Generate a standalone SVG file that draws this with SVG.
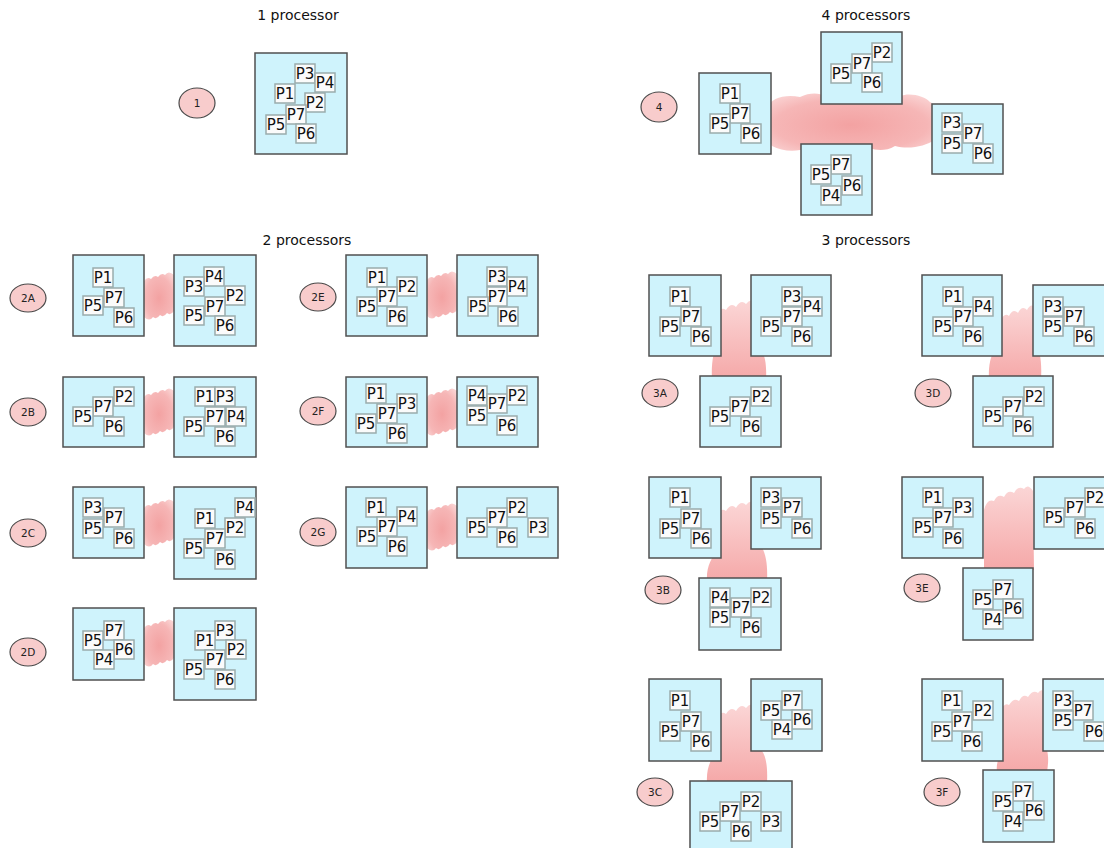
<svg xmlns="http://www.w3.org/2000/svg" xmlns:xlink="http://www.w3.org/1999/xlink" width="1104" height="848" viewBox="0 0 1104 848">
<style>
.bx{fill:#cff3fc;stroke:#505050;stroke-width:1.5}
.l{fill:#fbfbfb;stroke:#9aacac;stroke-width:1.5}
.t{font-family:"DejaVu Sans",sans-serif;font-size:15px;text-anchor:middle;fill:#111}
.ti{font-family:"DejaVu Sans",sans-serif;font-size:14px;text-anchor:middle;fill:#111}
.ci{fill:#f8cccc;stroke:#4a4a4a;stroke-width:1.2}
.ct{font-family:"DejaVu Sans",sans-serif;font-size:10.5px;text-anchor:middle;fill:#222}
.hcl{fill:url(#rg)}
.vcl{fill:url(#lg)}
</style>
<defs>
<radialGradient id="rg" cx="0.5" cy="0.55" r="0.65"><stop offset="0" stop-color="#f3a2a2"/><stop offset="0.7" stop-color="#f6b6b6"/><stop offset="1" stop-color="#fad2d2"/></radialGradient>
<linearGradient id="lg" x1="0" y1="0" x2="0" y2="1"><stop offset="0" stop-color="#fbd6d6"/><stop offset="1" stop-color="#f5a8a8"/></linearGradient>
<path id="hc" d="M0,5 q3.5,-5 7,-2 q3.5,-5 7,-2 q3.5,-5 7,-2 q3.5,-5 9,0 L30,35 q-3.5,5 -7,2 q-3.5,5 -7,2 q-3.5,5 -7,2 q-3.5,5 -9,0 Z"/>
</defs>
<rect width="1104" height="848" fill="#fff"/>
<g id="titles">
<text class="ti" x="298" y="20">1 processor</text>
<text class="ti" x="866" y="20">4 processors</text>
<text class="ti" x="307" y="245">2 processors</text>
<text class="ti" x="866" y="245">3 processors</text>
</g>
<g id="connectors">
<path class="hcl" d="M768,108 C770,98 785,94 800,97 C810,92 820,93 825,96 L900,96 C910,92 925,96 930,102 L935,105 L935,140 C925,146 910,150 895,146 C885,152 875,150 870,148 L800,150 C790,152 780,150 772,146 C766,140 766,120 768,108 Z"/>
<use class="hcl" href="#hc" x="144" y="276"/>
<use class="hcl" href="#hc" x="427" y="275"/>
<use class="hcl" href="#hc" x="144" y="392"/>
<use class="hcl" href="#hc" x="427" y="392"/>
<use class="hcl" href="#hc" x="144" y="503"/>
<use class="hcl" href="#hc" x="427" y="507"/>
<use class="hcl" href="#hc" x="144" y="623"/>
<path class="vcl" d="M716,316 q4,-10 10,-6 q5,-8 10,-3 q5,-8 10,-3 q5,-7 10,0 L757,345 C764,352 767,360 766,380 L712,380 C711,362 714,352 716,345 Z"/>
<path class="vcl" d="M1000,322 q4,-10 9,-6 q4,-8 9,-3 q4,-8 9,-3 q4,-8 9,-2 L1036,345 C1040,352 1042,360 1041,380 L989,380 C988,362 992,352 998,345 Z"/>
<path class="vcl" d="M716,517 q4,-10 10,-6 q5,-8 10,-3 q5,-8 10,-3 q5,-7 10,0 L757,540 C765,550 768,560 767,582 L707,582 C706,565 712,560 716,550 Z"/>
<path class="vcl" d="M984,510 q3,-12 10,-9 q4,-8 10,-4 q4,-8 10,-4 q4,-8 10,-4 q4,-6 9,2 L1034,570 L984,570 Z"/>
<path class="vcl" d="M716,720 q4,-10 10,-6 q5,-8 10,-3 q5,-8 10,-3 q5,-7 10,0 L757,745 C765,752 768,762 767,783 L707,783 C706,768 711,760 716,750 Z"/>
<path class="vcl" d="M1000,712 q4,-10 9,-7 q5,-8 10,-4 q4,-8 9,-4 q5,-8 10,-4 q4,-6 8,1 L1047,750 C1049,758 1048,765 1047,772 L997,772 C996,765 998,760 1000,755 Z"/>
</g>
<g id="c1"><ellipse class="ci" cx="197" cy="103" rx="18" ry="15"/><text class="ct" x="197" y="107">1</text></g>
<g id="c4"><ellipse class="ci" cx="659" cy="107" rx="18" ry="15"/><text class="ct" x="659" y="111">4</text></g>
<g id="c2A"><ellipse class="ci" cx="28" cy="298" rx="18" ry="14"/><text class="ct" x="28" y="302">2A</text></g>
<g id="c2B"><ellipse class="ci" cx="28" cy="412" rx="18" ry="14"/><text class="ct" x="28" y="416">2B</text></g>
<g id="c2C"><ellipse class="ci" cx="28" cy="533" rx="18" ry="14"/><text class="ct" x="28" y="537">2C</text></g>
<g id="c2D"><ellipse class="ci" cx="28" cy="652" rx="18" ry="14"/><text class="ct" x="28" y="656">2D</text></g>
<g id="c2E"><ellipse class="ci" cx="318" cy="297" rx="18" ry="14"/><text class="ct" x="318" y="301">2E</text></g>
<g id="c2F"><ellipse class="ci" cx="318" cy="411" rx="18" ry="14"/><text class="ct" x="318" y="415">2F</text></g>
<g id="c2G"><ellipse class="ci" cx="318" cy="532" rx="18" ry="14"/><text class="ct" x="318" y="536">2G</text></g>
<g id="c3A"><ellipse class="ci" cx="660" cy="393" rx="18" ry="14"/><text class="ct" x="660" y="397">3A</text></g>
<g id="c3D"><ellipse class="ci" cx="933" cy="393" rx="18" ry="14"/><text class="ct" x="933" y="397">3D</text></g>
<g id="c3B"><ellipse class="ci" cx="663" cy="590" rx="18" ry="14"/><text class="ct" x="663" y="594">3B</text></g>
<g id="c3E"><ellipse class="ci" cx="922" cy="588" rx="18" ry="14"/><text class="ct" x="922" y="592">3E</text></g>
<g id="c3C"><ellipse class="ci" cx="655" cy="792" rx="18" ry="14"/><text class="ct" x="655" y="796">3C</text></g>
<g id="c3F"><ellipse class="ci" cx="942" cy="792" rx="18" ry="14"/><text class="ct" x="942" y="796">3F</text></g>

<g id="b1"><rect class="bx" x="255" y="53" width="92" height="101"/>
<rect class="l" x="295" y="64" width="20" height="19"/><text class="t" x="305" y="79">P3</text>
<rect class="l" x="315" y="73" width="20" height="19"/><text class="t" x="325" y="88">P4</text>
<rect class="l" x="275" y="84" width="20" height="19"/><text class="t" x="285" y="99">P1</text>
<rect class="l" x="305" y="93" width="20" height="19"/><text class="t" x="315" y="108">P2</text>
<rect class="l" x="286" y="105" width="20" height="19"/><text class="t" x="296" y="120">P7</text>
<rect class="l" x="266" y="115" width="20" height="19"/><text class="t" x="276" y="130">P5</text>
<rect class="l" x="296" y="124" width="20" height="19"/><text class="t" x="306" y="139">P6</text>
</g>
<g id="b4A"><rect class="bx" x="699" y="73" width="72" height="81"/>
<rect class="l" x="720" y="84" width="20" height="19"/><text class="t" x="730" y="99">P1</text>
<rect class="l" x="730" y="104" width="20" height="19"/><text class="t" x="740" y="119">P7</text>
<rect class="l" x="710" y="114" width="20" height="19"/><text class="t" x="720" y="129">P5</text>
<rect class="l" x="741" y="124" width="20" height="19"/><text class="t" x="751" y="139">P6</text>
</g>
<g id="b4B"><rect class="bx" x="821" y="32" width="81" height="72"/>
<rect class="l" x="872" y="43" width="20" height="19"/><text class="t" x="882" y="58">P2</text>
<rect class="l" x="852" y="54" width="20" height="19"/><text class="t" x="862" y="69">P7</text>
<rect class="l" x="831" y="64" width="20" height="19"/><text class="t" x="841" y="79">P5</text>
<rect class="l" x="862" y="73" width="20" height="19"/><text class="t" x="872" y="88">P6</text>
</g>
<g id="b4C"><rect class="bx" x="801" y="144" width="71" height="71"/>
<rect class="l" x="831" y="155" width="20" height="19"/><text class="t" x="841" y="170">P7</text>
<rect class="l" x="811" y="165" width="20" height="19"/><text class="t" x="821" y="180">P5</text>
<rect class="l" x="842" y="176" width="20" height="19"/><text class="t" x="852" y="191">P6</text>
<rect class="l" x="821" y="186" width="20" height="19"/><text class="t" x="831" y="201">P4</text>
</g>
<g id="b4D"><rect class="bx" x="932" y="104" width="71" height="70"/>
<rect class="l" x="942" y="113" width="20" height="19"/><text class="t" x="952" y="128">P3</text>
<rect class="l" x="963" y="124" width="20" height="19"/><text class="t" x="973" y="139">P7</text>
<rect class="l" x="942" y="134" width="20" height="19"/><text class="t" x="952" y="149">P5</text>
<rect class="l" x="973" y="144" width="20" height="19"/><text class="t" x="983" y="159">P6</text>
</g>

<g id="b2AL"><rect class="bx" x="73" y="255" width="71" height="81"/>
<rect class="l" x="93" y="268" width="20" height="19"/><text class="t" x="103" y="283">P1</text>
<rect class="l" x="104" y="288" width="20" height="19"/><text class="t" x="114" y="303">P7</text>
<rect class="l" x="83" y="296" width="20" height="19"/><text class="t" x="93" y="311">P5</text>
<rect class="l" x="114" y="308" width="20" height="19"/><text class="t" x="124" y="323">P6</text>
</g>
<g id="b2AR"><rect class="bx" x="174" y="255" width="82" height="91"/>
<rect class="l" x="204" y="267" width="20" height="19"/><text class="t" x="214" y="282">P4</text>
<rect class="l" x="184" y="277" width="20" height="19"/><text class="t" x="194" y="292">P3</text>
<rect class="l" x="225" y="286" width="20" height="19"/><text class="t" x="235" y="301">P2</text>
<rect class="l" x="205" y="297" width="20" height="19"/><text class="t" x="215" y="312">P7</text>
<rect class="l" x="184" y="306" width="20" height="19"/><text class="t" x="194" y="321">P5</text>
<rect class="l" x="215" y="316" width="20" height="19"/><text class="t" x="225" y="331">P6</text>
</g>
<g id="b2EL"><rect class="bx" x="346" y="255" width="81" height="81"/>
<rect class="l" x="367" y="268" width="20" height="19"/><text class="t" x="377" y="283">P1</text>
<rect class="l" x="397" y="277" width="20" height="19"/><text class="t" x="407" y="292">P2</text>
<rect class="l" x="377" y="287" width="20" height="19"/><text class="t" x="387" y="302">P7</text>
<rect class="l" x="357" y="297" width="20" height="19"/><text class="t" x="367" y="312">P5</text>
<rect class="l" x="387" y="307" width="20" height="19"/><text class="t" x="397" y="322">P6</text>
</g>
<g id="b2ER"><rect class="bx" x="457" y="255" width="81" height="81"/>
<rect class="l" x="487" y="267" width="20" height="19"/><text class="t" x="497" y="282">P3</text>
<rect class="l" x="507" y="277" width="20" height="19"/><text class="t" x="517" y="292">P4</text>
<rect class="l" x="487" y="287" width="20" height="19"/><text class="t" x="497" y="302">P7</text>
<rect class="l" x="468" y="297" width="20" height="19"/><text class="t" x="478" y="312">P5</text>
<rect class="l" x="498" y="307" width="20" height="19"/><text class="t" x="508" y="322">P6</text>
</g>
<g id="b2BL"><rect class="bx" x="63" y="377" width="81" height="70"/>
<rect class="l" x="114" y="387" width="20" height="19"/><text class="t" x="124" y="402">P2</text>
<rect class="l" x="93" y="397" width="20" height="19"/><text class="t" x="103" y="412">P7</text>
<rect class="l" x="73" y="407" width="20" height="19"/><text class="t" x="83" y="422">P5</text>
<rect class="l" x="104" y="417" width="20" height="19"/><text class="t" x="114" y="432">P6</text>
</g>
<g id="b2BR"><rect class="bx" x="174" y="377" width="82" height="80"/>
<rect class="l" x="195" y="387" width="20" height="19"/><text class="t" x="205" y="402">P1</text>
<rect class="l" x="215" y="387" width="20" height="19"/><text class="t" x="225" y="402">P3</text>
<rect class="l" x="205" y="407" width="20" height="19"/><text class="t" x="215" y="422">P7</text>
<rect class="l" x="226" y="407" width="20" height="19"/><text class="t" x="236" y="422">P4</text>
<rect class="l" x="184" y="417" width="20" height="19"/><text class="t" x="194" y="432">P5</text>
<rect class="l" x="215" y="427" width="20" height="19"/><text class="t" x="225" y="442">P6</text>
</g>
<g id="b2FL"><rect class="bx" x="346" y="377" width="81" height="70"/>
<rect class="l" x="366" y="384" width="20" height="19"/><text class="t" x="376" y="399">P1</text>
<rect class="l" x="397" y="394" width="20" height="19"/><text class="t" x="407" y="409">P3</text>
<rect class="l" x="377" y="404" width="20" height="19"/><text class="t" x="387" y="419">P7</text>
<rect class="l" x="356" y="414" width="20" height="19"/><text class="t" x="366" y="429">P5</text>
<rect class="l" x="387" y="424" width="20" height="19"/><text class="t" x="397" y="439">P6</text>
</g>
<g id="b2FR"><rect class="bx" x="457" y="377" width="81" height="70"/>
<rect class="l" x="467" y="386" width="20" height="19"/><text class="t" x="477" y="401">P4</text>
<rect class="l" x="487" y="394" width="20" height="19"/><text class="t" x="497" y="409">P7</text>
<rect class="l" x="507" y="386" width="20" height="19"/><text class="t" x="517" y="401">P2</text>
<rect class="l" x="467" y="406" width="20" height="19"/><text class="t" x="477" y="421">P5</text>
<rect class="l" x="497" y="416" width="20" height="19"/><text class="t" x="507" y="431">P6</text>
</g>
<g id="b2CL"><rect class="bx" x="73" y="487" width="71" height="71"/>
<rect class="l" x="83" y="498" width="20" height="19"/><text class="t" x="93" y="513">P3</text>
<rect class="l" x="104" y="508" width="20" height="19"/><text class="t" x="114" y="523">P7</text>
<rect class="l" x="83" y="519" width="20" height="19"/><text class="t" x="93" y="534">P5</text>
<rect class="l" x="114" y="529" width="20" height="19"/><text class="t" x="124" y="544">P6</text>
</g>
<g id="b2CR"><rect class="bx" x="174" y="487" width="82" height="92"/>
<rect class="l" x="235" y="498" width="20" height="19"/><text class="t" x="245" y="513">P4</text>
<rect class="l" x="195" y="509" width="20" height="19"/><text class="t" x="205" y="524">P1</text>
<rect class="l" x="225" y="518" width="20" height="19"/><text class="t" x="235" y="533">P2</text>
<rect class="l" x="205" y="529" width="20" height="19"/><text class="t" x="215" y="544">P7</text>
<rect class="l" x="184" y="539" width="20" height="19"/><text class="t" x="194" y="554">P5</text>
<rect class="l" x="215" y="550" width="20" height="19"/><text class="t" x="225" y="565">P6</text>
</g>
<g id="b2GL"><rect class="bx" x="346" y="487" width="81" height="81"/>
<rect class="l" x="366" y="498" width="20" height="19"/><text class="t" x="376" y="513">P1</text>
<rect class="l" x="397" y="507" width="20" height="19"/><text class="t" x="407" y="522">P4</text>
<rect class="l" x="377" y="517" width="20" height="19"/><text class="t" x="387" y="532">P7</text>
<rect class="l" x="357" y="527" width="20" height="19"/><text class="t" x="367" y="542">P5</text>
<rect class="l" x="387" y="537" width="20" height="19"/><text class="t" x="397" y="552">P6</text>
</g>
<g id="b2GR"><rect class="bx" x="457" y="487" width="101" height="71"/>
<rect class="l" x="507" y="498" width="20" height="19"/><text class="t" x="517" y="513">P2</text>
<rect class="l" x="487" y="508" width="20" height="19"/><text class="t" x="497" y="523">P7</text>
<rect class="l" x="467" y="518" width="20" height="19"/><text class="t" x="477" y="533">P5</text>
<rect class="l" x="497" y="528" width="20" height="19"/><text class="t" x="507" y="543">P6</text>
<rect class="l" x="528" y="518" width="20" height="19"/><text class="t" x="538" y="533">P3</text>
</g>
<g id="b2DL"><rect class="bx" x="73" y="608" width="71" height="72"/>
<rect class="l" x="104" y="621" width="20" height="19"/><text class="t" x="114" y="636">P7</text>
<rect class="l" x="83" y="631" width="20" height="19"/><text class="t" x="93" y="646">P5</text>
<rect class="l" x="114" y="640" width="20" height="19"/><text class="t" x="124" y="655">P6</text>
<rect class="l" x="94" y="650" width="20" height="19"/><text class="t" x="104" y="665">P4</text>
</g>
<g id="b2DR"><rect class="bx" x="174" y="608" width="82" height="92"/>
<rect class="l" x="215" y="621" width="20" height="19"/><text class="t" x="225" y="636">P3</text>
<rect class="l" x="195" y="631" width="20" height="19"/><text class="t" x="205" y="646">P1</text>
<rect class="l" x="226" y="640" width="20" height="19"/><text class="t" x="236" y="655">P2</text>
<rect class="l" x="205" y="650" width="20" height="19"/><text class="t" x="215" y="665">P7</text>
<rect class="l" x="184" y="660" width="20" height="19"/><text class="t" x="194" y="675">P5</text>
<rect class="l" x="215" y="670" width="20" height="19"/><text class="t" x="225" y="685">P6</text>
</g>

<g id="b3ATL"><rect class="bx" x="649" y="275" width="72" height="81"/>
<rect class="l" x="670" y="287" width="20" height="19"/><text class="t" x="680" y="302">P1</text>
<rect class="l" x="681" y="307" width="20" height="19"/><text class="t" x="691" y="322">P7</text>
<rect class="l" x="660" y="317" width="20" height="19"/><text class="t" x="670" y="332">P5</text>
<rect class="l" x="691" y="327" width="20" height="19"/><text class="t" x="701" y="342">P6</text>
</g>
<g id="b3ATR"><rect class="bx" x="751" y="275" width="80" height="81"/>
<rect class="l" x="782" y="287" width="20" height="19"/><text class="t" x="792" y="302">P3</text>
<rect class="l" x="802" y="297" width="20" height="19"/><text class="t" x="812" y="312">P4</text>
<rect class="l" x="782" y="307" width="20" height="19"/><text class="t" x="792" y="322">P7</text>
<rect class="l" x="761" y="317" width="20" height="19"/><text class="t" x="771" y="332">P5</text>
<rect class="l" x="792" y="327" width="20" height="19"/><text class="t" x="802" y="342">P6</text>
</g>
<g id="b3AB"><rect class="bx" x="700" y="376" width="81" height="71"/>
<rect class="l" x="751" y="387" width="20" height="19"/><text class="t" x="761" y="402">P2</text>
<rect class="l" x="730" y="397" width="20" height="19"/><text class="t" x="740" y="412">P7</text>
<rect class="l" x="710" y="407" width="20" height="19"/><text class="t" x="720" y="422">P5</text>
<rect class="l" x="741" y="417" width="20" height="19"/><text class="t" x="751" y="432">P6</text>
</g>
<g id="b3DTL"><rect class="bx" x="922" y="275" width="80" height="81"/>
<rect class="l" x="943" y="287" width="20" height="19"/><text class="t" x="953" y="302">P1</text>
<rect class="l" x="973" y="297" width="20" height="19"/><text class="t" x="983" y="312">P4</text>
<rect class="l" x="953" y="307" width="20" height="19"/><text class="t" x="963" y="322">P7</text>
<rect class="l" x="933" y="317" width="20" height="19"/><text class="t" x="943" y="332">P5</text>
<rect class="l" x="963" y="327" width="20" height="19"/><text class="t" x="973" y="342">P6</text>
</g>
<g id="b3DTR"><rect class="bx" x="1033" y="285" width="80" height="71"/>
<rect class="l" x="1043" y="297" width="20" height="19"/><text class="t" x="1053" y="312">P3</text>
<rect class="l" x="1064" y="307" width="20" height="19"/><text class="t" x="1074" y="322">P7</text>
<rect class="l" x="1043" y="317" width="20" height="19"/><text class="t" x="1053" y="332">P5</text>
<rect class="l" x="1074" y="327" width="20" height="19"/><text class="t" x="1084" y="342">P6</text>
</g>
<g id="b3DB"><rect class="bx" x="973" y="376" width="80" height="71"/>
<rect class="l" x="1024" y="387" width="20" height="19"/><text class="t" x="1034" y="402">P2</text>
<rect class="l" x="1003" y="397" width="20" height="19"/><text class="t" x="1013" y="412">P7</text>
<rect class="l" x="983" y="407" width="20" height="19"/><text class="t" x="993" y="422">P5</text>
<rect class="l" x="1013" y="417" width="20" height="19"/><text class="t" x="1023" y="432">P6</text>
</g>
<g id="b3BTL"><rect class="bx" x="649" y="477" width="72" height="81"/>
<rect class="l" x="670" y="488" width="20" height="19"/><text class="t" x="680" y="503">P1</text>
<rect class="l" x="681" y="509" width="20" height="19"/><text class="t" x="691" y="524">P7</text>
<rect class="l" x="660" y="519" width="20" height="19"/><text class="t" x="670" y="534">P5</text>
<rect class="l" x="691" y="529" width="20" height="19"/><text class="t" x="701" y="544">P6</text>
</g>
<g id="b3BTR"><rect class="bx" x="751" y="477" width="70" height="72"/>
<rect class="l" x="761" y="488" width="20" height="19"/><text class="t" x="771" y="503">P3</text>
<rect class="l" x="782" y="498" width="20" height="19"/><text class="t" x="792" y="513">P7</text>
<rect class="l" x="761" y="509" width="20" height="19"/><text class="t" x="771" y="524">P5</text>
<rect class="l" x="792" y="519" width="20" height="19"/><text class="t" x="802" y="534">P6</text>
</g>
<g id="b3BB"><rect class="bx" x="699" y="578" width="82" height="72"/>
<rect class="l" x="710" y="588" width="20" height="19"/><text class="t" x="720" y="603">P4</text>
<rect class="l" x="731" y="598" width="20" height="19"/><text class="t" x="741" y="613">P7</text>
<rect class="l" x="751" y="588" width="20" height="19"/><text class="t" x="761" y="603">P2</text>
<rect class="l" x="710" y="608" width="20" height="19"/><text class="t" x="720" y="623">P5</text>
<rect class="l" x="741" y="618" width="20" height="19"/><text class="t" x="751" y="633">P6</text>
</g>
<g id="b3ETL"><rect class="bx" x="902" y="477" width="81" height="81"/>
<rect class="l" x="923" y="488" width="20" height="19"/><text class="t" x="933" y="503">P1</text>
<rect class="l" x="953" y="498" width="20" height="19"/><text class="t" x="963" y="513">P3</text>
<rect class="l" x="933" y="508" width="20" height="19"/><text class="t" x="943" y="523">P7</text>
<rect class="l" x="913" y="518" width="20" height="19"/><text class="t" x="923" y="533">P5</text>
<rect class="l" x="943" y="529" width="20" height="19"/><text class="t" x="953" y="544">P6</text>
</g>
<g id="b3ETR"><rect class="bx" x="1034" y="477" width="80" height="72"/>
<rect class="l" x="1085" y="488" width="20" height="19"/><text class="t" x="1095" y="503">P2</text>
<rect class="l" x="1065" y="498" width="20" height="19"/><text class="t" x="1075" y="513">P7</text>
<rect class="l" x="1044" y="508" width="20" height="19"/><text class="t" x="1054" y="523">P5</text>
<rect class="l" x="1075" y="519" width="20" height="19"/><text class="t" x="1085" y="534">P6</text>
</g>
<g id="b3EB"><rect class="bx" x="963" y="568" width="70" height="72"/>
<rect class="l" x="993" y="580" width="20" height="19"/><text class="t" x="1003" y="595">P7</text>
<rect class="l" x="973" y="590" width="20" height="19"/><text class="t" x="983" y="605">P5</text>
<rect class="l" x="1003" y="599" width="20" height="19"/><text class="t" x="1013" y="614">P6</text>
<rect class="l" x="983" y="610" width="20" height="19"/><text class="t" x="993" y="625">P4</text>
</g>
<g id="b3CTL"><rect class="bx" x="649" y="679" width="72" height="82"/>
<rect class="l" x="670" y="691" width="20" height="19"/><text class="t" x="680" y="706">P1</text>
<rect class="l" x="681" y="712" width="20" height="19"/><text class="t" x="691" y="727">P7</text>
<rect class="l" x="660" y="722" width="20" height="19"/><text class="t" x="670" y="737">P5</text>
<rect class="l" x="691" y="732" width="20" height="19"/><text class="t" x="701" y="747">P6</text>
</g>
<g id="b3CTR"><rect class="bx" x="751" y="679" width="71" height="72"/>
<rect class="l" x="782" y="691" width="20" height="19"/><text class="t" x="792" y="706">P7</text>
<rect class="l" x="761" y="701" width="20" height="19"/><text class="t" x="771" y="716">P5</text>
<rect class="l" x="792" y="710" width="20" height="19"/><text class="t" x="802" y="725">P6</text>
<rect class="l" x="772" y="720" width="20" height="19"/><text class="t" x="782" y="735">P4</text>
</g>
<g id="b3CB"><rect class="bx" x="690" y="781" width="102" height="72"/>
<rect class="l" x="741" y="792" width="20" height="19"/><text class="t" x="751" y="807">P2</text>
<rect class="l" x="720" y="802" width="20" height="19"/><text class="t" x="730" y="817">P7</text>
<rect class="l" x="700" y="812" width="20" height="19"/><text class="t" x="710" y="827">P5</text>
<rect class="l" x="731" y="822" width="20" height="19"/><text class="t" x="741" y="837">P6</text>
<rect class="l" x="761" y="812" width="20" height="19"/><text class="t" x="771" y="827">P3</text>
</g>
<g id="b3FTL"><rect class="bx" x="922" y="679" width="81" height="82"/>
<rect class="l" x="942" y="691" width="20" height="19"/><text class="t" x="952" y="706">P1</text>
<rect class="l" x="973" y="701" width="20" height="19"/><text class="t" x="983" y="716">P2</text>
<rect class="l" x="952" y="712" width="20" height="19"/><text class="t" x="962" y="727">P7</text>
<rect class="l" x="932" y="722" width="20" height="19"/><text class="t" x="942" y="737">P5</text>
<rect class="l" x="962" y="732" width="20" height="19"/><text class="t" x="972" y="747">P6</text>
</g>
<g id="b3FTR"><rect class="bx" x="1043" y="679" width="80" height="72"/>
<rect class="l" x="1053" y="691" width="20" height="19"/><text class="t" x="1063" y="706">P3</text>
<rect class="l" x="1073" y="701" width="20" height="19"/><text class="t" x="1083" y="716">P7</text>
<rect class="l" x="1053" y="711" width="20" height="19"/><text class="t" x="1063" y="726">P5</text>
<rect class="l" x="1084" y="722" width="20" height="19"/><text class="t" x="1094" y="737">P6</text>
</g>
<g id="b3FB"><rect class="bx" x="983" y="770" width="71" height="72"/>
<rect class="l" x="1013" y="782" width="20" height="19"/><text class="t" x="1023" y="797">P7</text>
<rect class="l" x="993" y="792" width="20" height="19"/><text class="t" x="1003" y="807">P5</text>
<rect class="l" x="1024" y="801" width="20" height="19"/><text class="t" x="1034" y="816">P6</text>
<rect class="l" x="1003" y="812" width="20" height="19"/><text class="t" x="1013" y="827">P4</text>
</g>
</svg>
